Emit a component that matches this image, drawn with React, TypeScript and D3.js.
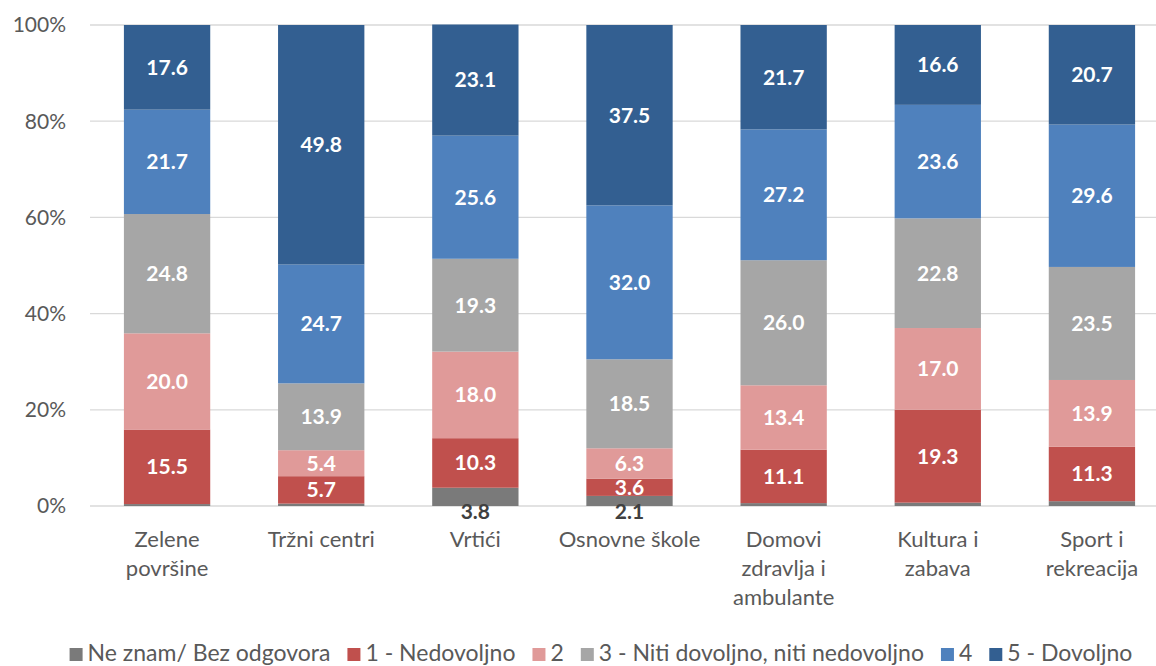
import React, { useEffect, useRef } from "react";
import * as d3 from "d3";

const categories = [
  ["Zelene", "površine"],
  ["Tržni centri"],
  ["Vrtići"],
  ["Osnovne škole"],
  ["Domovi", "zdravlja i", "ambulante"],
  ["Kultura i", "zabava"],
  ["Sport i", "rekreacija"],
];
const seriesNames = [
  "Ne znam/ Bez odgovora",
  "1 - Nedovoljno",
  "2",
  "3 - Niti dovoljno, niti nedovoljno",
  "4",
  "5 - Dovoljno",
];
const neZnam = [0.4, 0.5, 3.8, 2.1, 0.6, 0.7, 1.0];
const nedovoljno = [15.5, 5.7, 10.3, 3.6, 11.1, 19.3, 11.3];
const dva = [20.0, 5.4, 18.0, 6.3, 13.4, 17.0, 13.9];
const niti = [24.8, 13.9, 19.3, 18.5, 26.0, 22.8, 23.5];
const cetiri = [21.7, 24.7, 25.6, 32.0, 27.2, 23.6, 29.6];
const dovoljno = [17.6, 49.8, 23.1, 37.5, 21.7, 16.6, 20.7];
const yTicks = [0, 20, 40, 60, 80, 100];
const colors = ["#7a7a7a", "#c0504d", "#e09a99", "#a6a6a6", "#4f81bd", "#335f91"];

const series = [neZnam, nedovoljno, dva, niti, cetiri, dovoljno];

export default function App() {
  const ref = useRef<SVGSVGElement>(null);
  useEffect(() => {
    const svg = d3.select(ref.current);
    svg.selectAll("*").remove();
    const font = "Lato, 'Open Sans', sans-serif";
    const x = d3
      .scaleBand<number>()
      .domain(d3.range(categories.length))
      .range([90, 1169])
      .paddingInner(0.44)
      .paddingOuter(0.22);
    const y = d3.scaleLinear().domain([0, 100]).range([506, 25]);

    // gridlines
    svg
      .append("g")
      .selectAll("line")
      .data(yTicks)
      .join("line")
      .attr("x1", 90)
      .attr("x2", 1156)
      .attr("y1", (d) => y(d))
      .attr("y2", (d) => y(d))
      .attr("stroke", "#d9d9d9")
      .attr("stroke-width", 1.3);

    // y labels
    svg
      .append("g")
      .selectAll("text")
      .data(yTicks)
      .join("text")
      .attr("x", 66)
      .attr("y", (d) => y(d))
      .attr("dy", "0.35em")
      .attr("text-anchor", "end")
      .attr("font-family", font)
      .attr("font-size", 21)
      .attr("fill", "#595959")
      .text((d) => d + "%");

    // stacks
    const rows = categories.map((_, i) => {
      const r: any = { i };
      series.forEach((s, k) => (r["s" + k] = s[i]));
      return r;
    });
    const stack = d3.stack<any>().keys(series.map((_, k) => "s" + k));
    const stacked = stack(rows);

    const gBars = svg.append("g");
    stacked.forEach((layer, k) => {
      gBars
        .append("g")
        .attr("fill", colors[k])
        .selectAll("rect")
        .data(layer)
        .join("rect")
        .attr("x", (d) => x(d.data.i)!)
        .attr("width", x.bandwidth())
        .attr("y", (d) => y(d[1]))
        .attr("height", (d) => y(d[0]) - y(d[1]));
    });

    // value labels
    const gLab = svg.append("g");
    stacked.forEach((layer, k) => {
      layer.forEach((d) => {
        const v = series[k][d.data.i];
        if (k === 0) {
          if (v < 2) return;
          gLab
            .append("text")
            .attr("x", x(d.data.i)! + x.bandwidth() / 2)
            .attr("y", y(0) + 6)
            .attr("dy", "0.35em")
            .attr("text-anchor", "middle")
            .attr("font-family", font)
            .attr("font-weight", 700)
            .attr("font-size", 21)
            .attr("fill", "#404040")
            .text(v.toFixed(1));
          return;
        }
        gLab
          .append("text")
          .attr("x", x(d.data.i)! + x.bandwidth() / 2)
          .attr("y", (y(d[0]) + y(d[1])) / 2)
          .attr("dy", "0.35em")
          .attr("text-anchor", "middle")
          .attr("font-family", font)
          .attr("font-weight", 700)
          .attr("font-size", 21)
          .attr("fill", "#ffffff")
          .text(v.toFixed(1));
      });
    });

    // category labels
    const gCat = svg.append("g");
    categories.forEach((lines, i) => {
      const t = gCat
        .append("text")
        .attr("text-anchor", "middle")
        .attr("font-family", font)
        .attr("font-size", 22)
        .attr("fill", "#595959");
      lines.forEach((ln, j) => {
        t.append("tspan")
          .attr("x", x(i)! + x.bandwidth() / 2)
          .attr("y", 547 + j * 29)
          .text(ln);
      });
    });

    // legend
    const gLeg = svg.append("g");
    const items = seriesNames.map((name, k) => {
      const g = gLeg.append("g");
      g.append("rect")
        .attr("width", 13)
        .attr("height", 13)
        .attr("y", -13)
        .attr("fill", colors[k]);
      const t = g
        .append("text")
        .attr("x", 18)
        .attr("font-family", font)
        .attr("font-size", 23)
        .attr("fill", "#595959")
        .text(name);
      const w = (t.node() as SVGTextElement).getComputedTextLength();
      return { g, w: 18 + w };
    });
    const gap = 17;
    const total = d3.sum(items, (d) => d.w) + gap * (items.length - 1);
    let cx = 601 - total / 2;
    items.forEach((it) => {
      it.g.attr("transform", `translate(${cx},661)`);
      cx += it.w + gap;
    });
  }, []);
  return (
    <div style={{ position: "absolute", left: 0, top: 0 }}>
      <svg ref={ref} width={1156} height={666} style={{ display: "block", background: "#fff" }} />
    </div>
  );
}
